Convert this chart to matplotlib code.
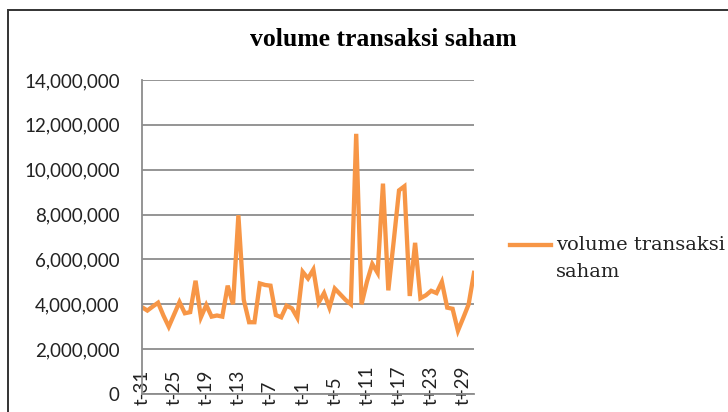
"""
Line chart of daily stock trading volume around the event date (t-31 .. t+31)
"""

import matplotlib
matplotlib.use("Agg")
import matplotlib.pyplot as plt
from matplotlib.lines import Line2D
from matplotlib.patches import Rectangle
from matplotlib.ticker import FuncFormatter

# days relative to the event
days = [f"t{d:+d}" if d != 0 else "t0" for d in range(-31, 32)]

# volume in millions of shares
volume_m = [
    3.87, 3.72, 3.90, 4.07, 3.50, 3.00, 3.55, 4.10, 3.60, 3.65,
    5.05, 3.42, 3.97, 3.45, 3.50, 3.45, 4.83, 4.00, 7.97, 4.20,
    3.20, 3.20, 4.93, 4.86, 4.83, 3.52, 3.42, 3.94, 3.82, 3.40,
    5.45, 5.15, 5.55, 4.08, 4.50, 3.85, 4.70, 4.45, 4.20, 4.00,
    11.60, 4.00, 5.00, 5.80, 5.40, 9.38, 4.62, 6.80, 9.08, 9.26,
    4.37, 6.74, 4.27, 4.40, 4.60, 4.50, 5.00, 3.85, 3.80, 2.82,
    3.40, 4.00, 5.40,
]
volume = [v * 1e6 for v in volume_m]

label_every = 6
series_name = "volume transaksi saham"

ORANGE = "#F79646"
GRID = "#8C8C8C"

fig = plt.figure(figsize=(7.28, 4.12), dpi=100)
ax = fig.add_axes([142 / 728, 18 / 412, 332 / 728, 314 / 412])

x = list(range(len(days)))
ax.plot(x, volume, color=ORANGE, lw=3.1, solid_joinstyle="miter")

ax.set_xlim(0, len(days) - 1)
ax.set_ylim(0, 14e6)
ax.set_yticks(range(0, 14_000_001, 2_000_000))
ax.yaxis.set_major_formatter(FuncFormatter(lambda v, p: f"{int(v):,}"))
ax.grid(axis="y", color=GRID, lw=1.3)
ax.set_axisbelow(True)

ax.set_xticks(x[::label_every])
ax.set_xticklabels(days[::label_every], rotation=90, va="bottom",
                   fontsize=13.5, family="Lato", color="#222222")
ax.tick_params(axis="x", length=0, pad=8)
ax.tick_params(axis="y", length=0, pad=16, labelsize=13.5, labelcolor="#222222")
for lab in ax.get_yticklabels():
    lab.set_family("Lato")

for side in ["top", "right"]:
    ax.spines[side].set_visible(False)
for side in ["left", "bottom"]:
    ax.spines[side].set_color(GRID)
    ax.spines[side].set_linewidth(1.3)

# chart title
fig.text(383 / 728, 1 - 40 / 412, series_name, ha="center", va="center",
         fontsize=18.5, fontweight="bold", family="Liberation Serif")

# legend, drawn by hand so the sample sits on the first text line
fig.add_artist(Line2D([510 / 728, 551 / 728], [1 - 245 / 412] * 2,
                      color=ORANGE, lw=3.1))
fig.text(556 / 728, 1 - 245 / 412, "volume transaksi", ha="left", va="center",
         fontsize=14.0, family="DejaVu Serif", color="#222222")
fig.text(556 / 728, 1 - 272 / 412, "saham", ha="left", va="center",
         fontsize=14.0, family="DejaVu Serif", color="#222222")

# outer chart border (cropped at right and bottom)
fig.add_artist(Rectangle((8 / 728, -0.2), 1.2, 1.2 - 10 / 412,
                         transform=fig.transFigure, fill=False,
                         edgecolor="#333333", lw=1.4))

fig.savefig("out.png", dpi=100)
